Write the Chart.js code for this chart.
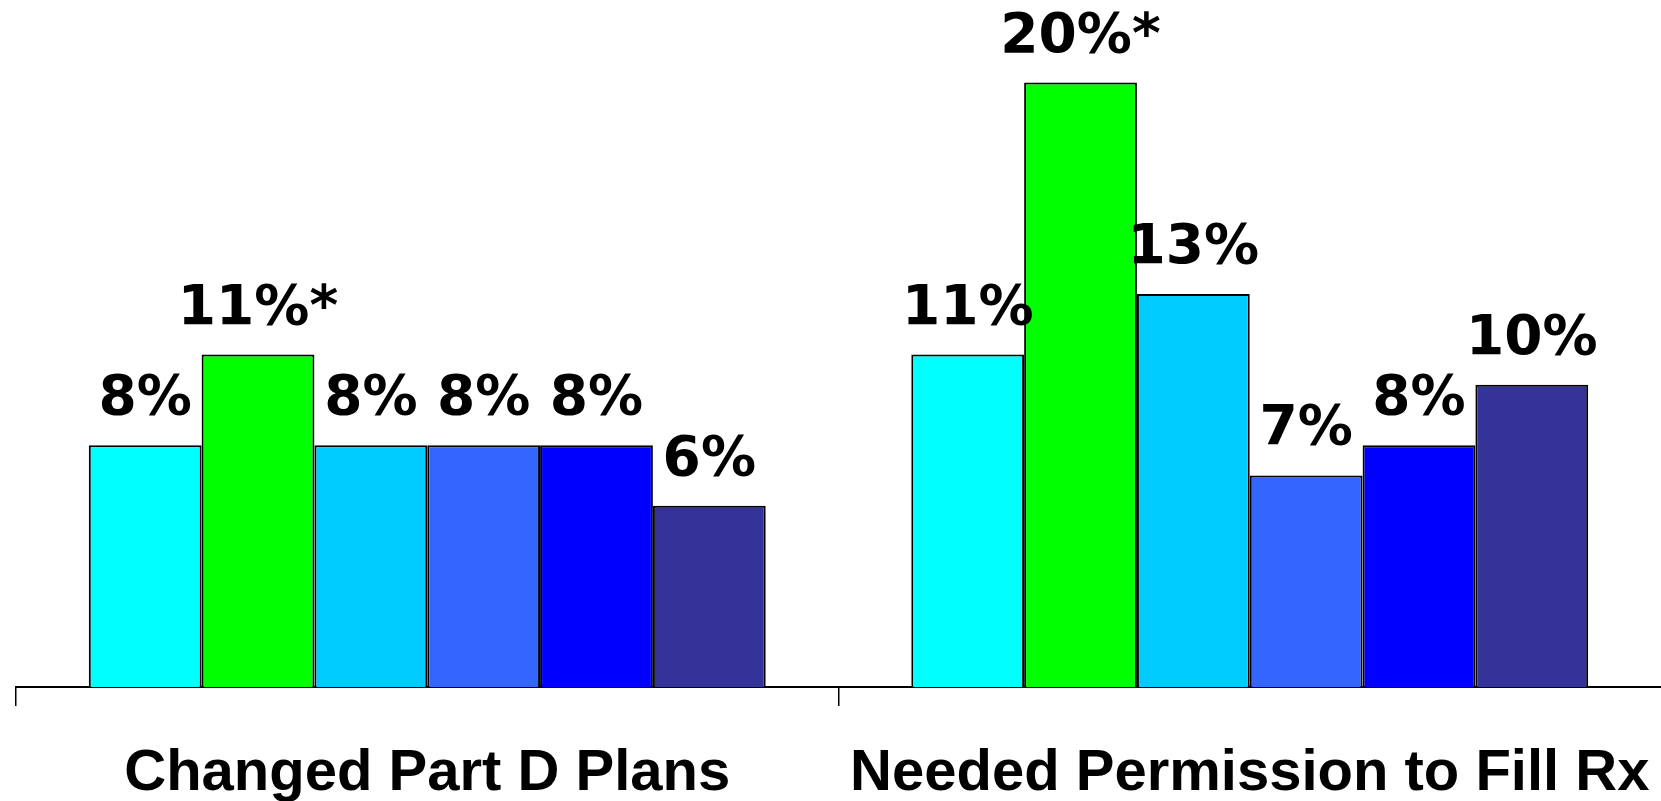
<!DOCTYPE html>
<html lang="en">
<head>
    <meta charset="UTF-8">
    <title>Changed Part D Plans / Needed Permission to Fill Rx</title>
    <script src="https://cdn.jsdelivr.net/npm/chart.js"></script>
    <style>
        html, body { margin: 0; padding: 0; background: #fff; overflow: hidden; }
        #wrap { width: 1661px; height: 801px; position: relative; }
    </style>
</head>
<body>
    <div id="wrap">
        <canvas id="chart"></canvas>
    </div>

    <script>
        // Categories and values (percent)
        const categories = ['Changed Part D Plans', 'Needed Permission to Fill Rx'];
        const seriesNames = ['Group 1', 'Group 2', 'Group 3', 'Group 4', 'Group 5', 'Group 6'];
        const seriesColors = ['#00FFFF', '#00FF00', '#00CCFF', '#3366FF', '#0000FF', '#333399'];
        const series1 = [8, 11];
        const series2 = [11, 20];
        const series3 = [8, 13];
        const series4 = [8, 7];
        const series5 = [8, 8];
        const series6 = [6, 10];
        // significance markers (asterisk after the label)
        const starred = [[false, false], [true, true], [false, false], [false, false], [false, false], [false, false]];

        const allSeries = [series1, series2, series3, series4, series5, series6];

        // Draw the value labels above each bar
        const valueLabels = {
            id: 'valueLabels',
            afterDatasetsDraw(chart) {
                const ctx = chart.ctx;
                ctx.save();
                ctx.font = 'bold 55px "DejaVu Sans", Verdana, sans-serif';
                ctx.fillStyle = '#000';
                ctx.textAlign = 'center';
                ctx.textBaseline = 'alphabetic';
                chart.data.datasets.forEach((ds, i) => {
                    const meta = chart.getDatasetMeta(i);
                    meta.data.forEach((bar, j) => {
                        const txt = ds.data[j] + '%' + (starred[i][j] ? '*' : '');
                        ctx.fillText(txt, bar.x, bar.y - 31);
                    });
                });
                ctx.restore();
            }
        };

        new Chart(document.getElementById('chart'), {
            type: 'bar',
            data: {
                labels: categories,
                datasets: allSeries.map((vals, i) => ({
                    label: seriesNames[i],
                    data: vals,
                    backgroundColor: seriesColors[i],
                    borderColor: '#000',
                    borderWidth: 2,
                    categoryPercentage: 0.823,
                    barPercentage: 1.0
                }))
            },
            options: {
                responsive: true,
                maintainAspectRatio: false,
                animation: false,
                layout: { padding: { top: 7, left: 16, right: 0, bottom: 0 } },
                plugins: {
                    legend: { display: false },
                    tooltip: { enabled: false }
                },
                scales: {
                    x: {
                        grid: {
                            display: true,
                            drawOnChartArea: false,
                            drawTicks: true,
                            tickLength: 19,
                            // the right-hand edge tick falls off the picture in the original
                            color: (c) => c.type === 'tick' ? '#000' : 'rgba(0,0,0,0)',
                            lineWidth: 1.5,
                            offset: true
                        },
                        border: { display: true, color: '#000', width: 2 },
                        ticks: {
                            color: '#000',
                            padding: 33,
                            maxRotation: 0,
                            autoSkip: false,
                            font: { family: '"Liberation Sans", Arial, sans-serif', size: 58, weight: 'bold' }
                        },
                        afterFit(scale) {
                            scale.height = 114;
                            scale.paddingLeft = 0;
                            scale.paddingRight = 0;
                        }
                    },
                    y: {
                        display: false,
                        min: 0,
                        max: 22.5
                    }
                }
            },
            plugins: [valueLabels]
        });
    </script>
</body>
</html>
